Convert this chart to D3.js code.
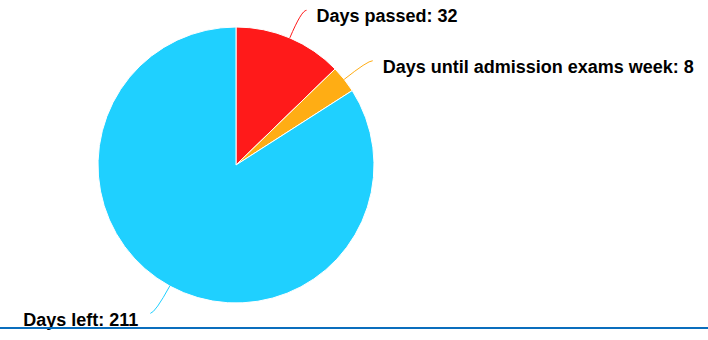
<!DOCTYPE html>
<html>
<head>
	<meta charset="utf-8">
	<title>Days</title>
	<script src="https://d3js.org/d3.v7.min.js"></script>
	<style>
		body { margin: 0; background: #fff; }
		text { font-family: "Liberation Sans", Arial, sans-serif; font-weight: bold; font-size: 18px; fill: #000; }
	</style>
</head>
<body>
	<script type="text/javascript">

		// Data
		var labels = ['Days passed', 'Days until admission exams week', 'Days left'];
		var values = [32, 8, 211];
		var colors = ['#ff1a1a', '#ffad14', '#1fd0ff'];

		var width = 708,
			height = 340,
			cx = 236,
			cy = 165,
			radius = 138;

		var svg = d3.select('body')
					.append('svg')
					.attr('width', width)
					.attr('height', height);

		var pie = d3.pie().sort(null).value(function(d) { return d; });
		var arc = d3.arc().innerRadius(0).outerRadius(radius);
		var arcs = pie(values);

		var g = svg.append('g')
				   .attr('transform', 'translate(' + cx + ',' + cy + ')');

		// Slices
		g.selectAll('path.slice')
		 .data(arcs)
		 .enter()
		 .append('path')
		 .attr('class', 'slice')
		 .attr('d', arc)
		 .attr('fill', function(d, i) { return colors[i]; })
		 .attr('stroke', '#fff')
		 .attr('stroke-width', 1);

		// point at radius r along the middle of a slice
		function polar(d, r) {
			var a = (d.startAngle + d.endAngle) / 2;
			return [r * Math.sin(a), -r * Math.cos(a)];
		}

		function side(d) {
			var a = (d.startAngle + d.endAngle) / 2;
			return a < Math.PI ? 1 : -1;
		}

		// Connector lines
		g.selectAll('path.link')
		 .data(arcs)
		 .enter()
		 .append('path')
		 .attr('class', 'link')
		 .attr('fill', 'none')
		 .attr('stroke', function(d, i) { return colors[i]; })
		 .attr('stroke-width', 1)
		 .attr('d', function(d) {
		 	var p0 = polar(d, radius),
		 		p1 = polar(d, radius + 30),
		 		p2 = [p1[0] + 5 * side(d), p1[1] + (side(d) > 0 ? 0 : 1)];
		 	return 'M' + p0 + 'Q' + p1 + ' ' + p2;
		 });

		// Labels
		g.selectAll('text.label')
		 .data(arcs)
		 .enter()
		 .append('text')
		 .attr('class', 'label')
		 .attr('x', function(d) {
		 	var p = polar(d, radius + 30);
		 	return p[0] + 5 * side(d) + (side(d) > 0 ? 10 : -12);
		 })
		 .attr('y', function(d) { return polar(d, radius + 30)[1] + (side(d) > 0 ? 12 : 13.5); })
		 .style('text-anchor', function(d) { return side(d) > 0 ? 'start' : 'end'; })
		 .text(function(d, i) { return labels[i] + ': ' + values[i]; });

		// Bottom rule
		svg.append('rect')
		   .attr('x', 0)
		   .attr('y', 327)
		   .attr('width', width)
		   .attr('height', 2)
		   .attr('fill', '#0a6ebd');

	</script>
</body>
</html>
